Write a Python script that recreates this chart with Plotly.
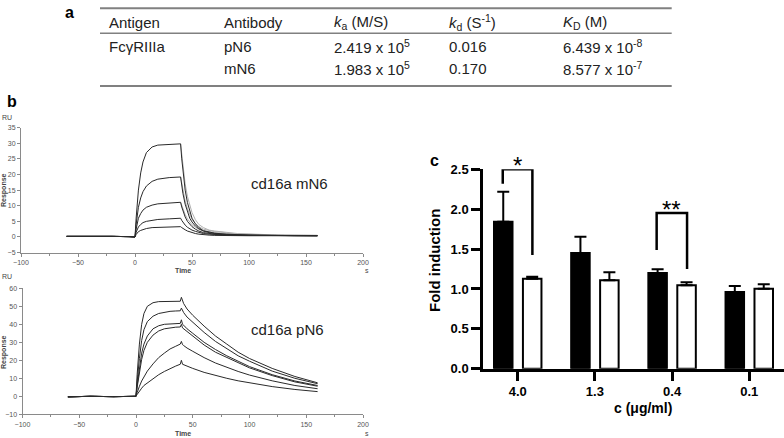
import plotly.graph_objects as go

W, H = 784, 438

# ---------------- table (panel a) ----------------
table_header = ["Antigen", "Antibody", "<i>k</i><sub>a</sub> (M/S)", "<i>k</i><sub>d</sub> (S<sup>-1</sup>)", "<i>K</i><sub>D</sub> (M)"]
table_row1 = ["FcγRIIIa", "pN6", "2.419 x 10<sup>5</sup>", "0.016", "6.439 x 10<sup>-8</sup>"]
table_row2 = ["", "mN6", "1.983 x 10<sup>5</sup>", "0.170", "8.577 x 10<sup>-7</sup>"]

# ---------------- SPR, cd16a mN6 (top) ----------------
t_m = [-60, -40, -20, -5, 0, 1, 2, 3, 5, 7, 10, 15, 20, 30, 40, 41, 42, 44, 46, 48, 50, 53, 56, 60, 65, 70, 80, 90, 100, 120, 140, 160]
mN6_1 = [0.2, 0.3, 0.2, 0.1, 0, 6, 11, 15, 20.5, 24, 27, 28.8, 29.4, 29.7, 29.8, 25, 21, 15, 11, 8, 6, 4.2, 3, 2, 1.5, 1.2, 0.9, 0.7, 0.6, 0.5, 0.4, 0.4]
mN6_2 = [0.2, 0.3, 0.2, 0.1, 0, 4, 7, 9.5, 12.5, 14.5, 16.3, 17.8, 18.5, 19, 19.2, 16.5, 14, 10.5, 8, 6, 4.8, 3.5, 2.6, 1.9, 1.4, 1.1, 0.8, 0.6, 0.5, 0.5, 0.4, 0.4]
mN6_3 = [0.2, 0.3, 0.2, 0.1, 0, 2.5, 4.5, 6, 7.5, 8.6, 9.5, 10.2, 10.6, 10.9, 11.1, 9.6, 8.3, 6.4, 5, 4, 3.3, 2.5, 1.9, 1.4, 1.1, 0.9, 0.7, 0.6, 0.5, 0.5, 0.4, 0.4]
mN6_4 = [0.2, 0.3, 0.2, 0.1, 0, 1.5, 2.5, 3.2, 4, 4.6, 5, 5.4, 5.6, 5.8, 6.0, 5.3, 4.7, 3.8, 3.1, 2.6, 2.2, 1.8, 1.4, 1.1, 0.9, 0.8, 0.6, 0.5, 0.5, 0.4, 0.4, 0.4]
mN6_5 = [0.2, 0.3, 0.2, 0.1, 0, 0.8, 1.3, 1.7, 2.1, 2.4, 2.7, 3.0, 3.1, 3.2, 3.3, 3.0, 2.7, 2.3, 1.9, 1.6, 1.4, 1.1, 0.9, 0.7, 0.6, 0.5, 0.4, 0.4, 0.4, 0.4, 0.4, 0.4]
t_m_fit = [40, 41, 42, 44, 46, 48, 50, 53, 56, 60, 65, 70, 75, 80, 90, 100, 120, 140, 160]
mN6_fit1 = [29.8, 26, 22.5, 17, 13, 10, 7.8, 5.5, 4, 3, 2.2, 1.9, 1.8, 1.5, 1.1, 0.9, 0.7, 0.6, 0.5]
mN6_fit2 = [19.2, 17, 15, 11.5, 9, 7, 5.6, 4.3, 3.3, 2.5, 2, 1.7, 1.6, 1.3, 1, 0.8, 0.6, 0.5, 0.5]
mN6_fit3 = [11.1, 10, 9, 7.2, 5.8, 4.7, 3.9, 3.1, 2.5, 2, 1.6, 1.4, 1.3, 1.1, 0.9, 0.7, 0.6, 0.5, 0.5]

# ---------------- SPR, cd16a pN6 (bottom) ----------------
t_p = [-60, -40, -20, -5, 0, 1, 2, 3, 5, 7, 10, 15, 20, 25, 30, 35, 39, 40, 41, 42, 45, 50, 60, 70, 80, 90, 100, 120, 140, 160]
pN6_1 = [-0.3, 0, -0.2, 0, 0, 12, 22, 29, 40, 46, 50, 52, 52.6, 52.7, 52.8, 52.8, 52.8, 55, 52.5, 51.5, 48.5, 45, 39, 33.5, 29, 24.5, 21, 15.5, 11, 7.5]
pN6_2 = [-0.3, 0, -0.2, 0, 0, 8, 15, 21, 31, 37, 41.5, 44.5, 46, 46.8, 47.2, 47.4, 47.5, 49, 47.3, 46.5, 44, 41, 35.5, 30.5, 26.5, 22.5, 19.5, 14, 10, 7]
pN6_3 = [-0.3, 0, -0.2, 0, 0, 6, 11, 16, 24, 29, 33.5, 37.5, 39.2, 40, 40.3, 40.4, 40.5, 42.5, 40, 39.5, 37.5, 35, 30, 26, 22.5, 19.5, 16.5, 12, 8.5, 6]
pN6_4 = [-0.3, 0, -0.2, 0, 0, 5, 9.5, 13.5, 20.5, 25.5, 30, 34, 36.3, 37.5, 38.1, 38.4, 38.5, 40, 38, 37.5, 35.5, 33, 28.5, 24.5, 21.5, 18.5, 15.8, 11.5, 8, 5.6]
pN6_5 = [-0.3, 0, -0.2, 0, 0, 2, 4, 5.5, 8.5, 11, 14, 18, 21.5, 24, 26.3, 27.8, 29, 30.5, 28.7, 28.2, 26.8, 25, 21.5, 18.5, 16, 13.8, 11.8, 8.6, 6, 4.2]
pN6_6 = [-0.3, 0, -0.2, 0, 0, 1, 2, 3, 4.5, 6, 7.5, 10, 12, 13.8, 15.4, 16.8, 17.8, 20, 17.8, 17.5, 16.6, 15.5, 13.3, 11.5, 10, 8.6, 7.4, 5.4, 3.8, 2.6]

# ---------------- bar chart (panel c) ----------------
conc_labels = ["4.0", "1.3", "0.4", "0.1"]
black_vals = [1.843, 1.451, 1.200, 0.962]
black_err = [0.376, 0.204, 0.046, 0.075]
white_vals = [1.128, 1.108, 1.046, 1.003]
white_err = [0.025, 0.101, 0.037, 0.055]

FONT = "Liberation Sans, Arial, sans-serif"

def px(x):
    return x / W

def py(y):
    return 1 - y / H

fig = go.Figure()

curve_col = "#2a2a2a"
fit_col = "#b0b0b0"
for yv in [mN6_fit1, mN6_fit2, mN6_fit3]:
    fig.add_trace(go.Scatter(x=t_m_fit, y=yv, mode="lines", line=dict(color=fit_col, width=1),
                             xaxis="x", yaxis="y", showlegend=False, hoverinfo="skip"))
for yv in [mN6_1, mN6_2, mN6_3, mN6_4, mN6_5]:
    fig.add_trace(go.Scatter(x=t_m, y=yv, mode="lines", line=dict(color=curve_col, width=1),
                             xaxis="x", yaxis="y", showlegend=False))
for yv in [pN6_1, pN6_2, pN6_3, pN6_4, pN6_5, pN6_6]:
    fig.add_trace(go.Scatter(x=t_p, y=yv, mode="lines", line=dict(color=curve_col, width=1),
                             xaxis="x2", yaxis="y2", showlegend=False))

fig.add_trace(go.Bar(x=conc_labels, y=black_vals, marker=dict(color="black", line=dict(color="black", width=2)),
                     error_y=dict(type="data", array=black_err, arrayminus=[0] * 4, symmetric=False,
                                  color="black", thickness=2, width=6),
                     xaxis="x3", yaxis="y3", showlegend=False))
fig.add_trace(go.Bar(x=conc_labels, y=white_vals, marker=dict(color="white", line=dict(color="black", width=2)),
                     error_y=dict(type="data", array=white_err, arrayminus=[0] * 4, symmetric=False,
                                  color="black", thickness=2, width=6),
                     xaxis="x3", yaxis="y3", showlegend=False))

spr_tick = dict(size=7, color="#555", family=FONT)
spr_axis = dict(showline=True, linecolor="#8a8a8a", linewidth=1, ticks="outside", ticklen=3,
                tickcolor="#8a8a8a", tickfont=spr_tick, showgrid=False, zeroline=False, automargin=False)

fig.update_layout(
    width=W, height=H, margin=dict(l=0, r=0, t=0, b=0, pad=0, autoexpand=False),
    paper_bgcolor="white", plot_bgcolor="white",
    barmode="group", bargap=0.25, bargroupgap=0.36,
    font=dict(family=FONT),
    xaxis=dict(domain=[px(21), px(363)], range=[-100, 200], dtick=50, anchor="y",
               minor=dict(dtick=25, ticks="outside", ticklen=2, tickcolor="#8a8a8a"), **spr_axis),
    yaxis=dict(domain=[py(252.6), py(127.6)], range=[-5, 35], dtick=5, anchor="x", **spr_axis),
    xaxis2=dict(domain=[px(22.5), px(363)], range=[-100, 200], dtick=50, anchor="y2",
                minor=dict(dtick=25, ticks="outside", ticklen=2, tickcolor="#8a8a8a"), **spr_axis),
    yaxis2=dict(domain=[py(414.3), py(288.3)], range=[-10, 60], dtick=10, anchor="x2", **spr_axis),
    xaxis3=dict(domain=[px(483.3), 1], range=[-0.446, 3.45], type="category", anchor="y3",
                showline=True, linecolor="black", linewidth=3, ticks="outside", ticklen=9, tickwidth=3,
                tickcolor="black", tickfont=dict(size=13, color="black", family=FONT, weight="bold"),
                showgrid=False, zeroline=False, automargin=False),
    yaxis3=dict(domain=[py(368.7), py(169.3)], range=[0, 2.5], dtick=0.5, tickformat=".1f", anchor="x3",
                showline=True, linecolor="black", linewidth=3, ticks="outside", ticklen=9, tickwidth=3,
                tickcolor="black", tickfont=dict(size=13, color="black", family=FONT, weight="bold"),
                showgrid=False, zeroline=False, automargin=False),
)

ann = []
# table text
col_x = [106.7, 221.7, 331.7, 446.7, 561]
row_y = [22.7, 46.7, 69]
for r, row in enumerate([table_header, table_row1, table_row2]):
    for c, txt in enumerate(row):
        if txt:
            ann.append(dict(x=px(col_x[c]), y=py(row_y[r]), xref="paper", yref="paper", text=txt,
                            showarrow=False, xanchor="left", yanchor="middle",
                            font=dict(size=15, color="#222", family=FONT)))
shapes = []
for yy, wd in [(8.3, 2), (33.3, 1.5), (86, 2)]:
    shapes.append(dict(type="line", xref="paper", yref="paper", x0=px(100), x1=px(671.7), y0=py(yy), y1=py(yy),
                       line=dict(color="#808080", width=wd)))

# panel letters
for letter, x, y in [("a", 69.3, 12.3), ("b", 12, 101.7), ("c", 434, 160)]:
    ann.append(dict(x=px(x), y=py(y), xref="paper", yref="paper", text=letter, showarrow=False,
                    xanchor="center", yanchor="middle", font=dict(size=16, color="black", family=FONT, weight="bold")))

# SPR labels
small = dict(size=7, color="#444", family=FONT)
for y_ru, y_time, y_resp in [(117.7, 270.7, 190), (276.7, 433, 352)]:
    ann.append(dict(x=px(7.3), y=py(y_ru), xref="paper", yref="paper", text="RU", showarrow=False,
                    xanchor="center", yanchor="middle", font=small))
    ann.append(dict(x=px(183), y=py(y_time), xref="paper", yref="paper", text="<b>Time</b>", showarrow=False,
                    xanchor="center", yanchor="middle", font=small))
    ann.append(dict(x=px(367.3), y=py(y_time), xref="paper", yref="paper", text="s", showarrow=False,
                    xanchor="center", yanchor="middle", font=small))
    ann.append(dict(x=px(4), y=py(y_resp), xref="paper", yref="paper", text="<b>Response</b>", showarrow=False,
                    xanchor="center", yanchor="middle", textangle=-90, font=small))
ann.append(dict(x=px(289.3), y=py(183.3), xref="paper", yref="paper", text="cd16a mN6", showarrow=False,
                xanchor="center", yanchor="middle", font=dict(size=15, color="#222", family=FONT)))
ann.append(dict(x=px(287.3), y=py(329.3), xref="paper", yref="paper", text="cd16a pN6", showarrow=False,
                xanchor="center", yanchor="middle", font=dict(size=15, color="#222", family=FONT)))

# bar chart titles
ann.append(dict(x=px(434), y=py(261), xref="paper", yref="paper", text="Fold induction", showarrow=False,
                xanchor="center", yanchor="middle", textangle=-90,
                font=dict(size=15, color="black", family=FONT, weight="bold")))
ann.append(dict(x=px(643), y=py(408.3), xref="paper", yref="paper", text="c (μg/ml)", showarrow=False,
                xanchor="center", yanchor="middle", font=dict(size=14, color="black", family=FONT, weight="bold")))

# significance brackets: (left x, right x, left bottom, right bottom, top, label)
brackets = [(-0.194, 0.19, 2.32, 1.425, 2.5, "*"), (1.8, 2.194, 1.488, 1.25, 1.952, "**")]
for xl, xr, yl, yr, yt, lab in brackets:
    shapes.append(dict(type="path", xref="x3", yref="y3",
                       path=f"M {xl},{yl} L {xl},{yt} L {xr},{yt} L {xr},{yr}",
                       line=dict(color="black", width=2.5)))
    ann.append(dict(x=(xl + xr) / 2, y=yt, xref="x3", yref="y3", text=lab, showarrow=False,
                    xanchor="center", yanchor="bottom", yshift=-12,
                    font=dict(size=24, color="black", family=FONT)))

fig.update_layout(annotations=ann, shapes=shapes)
fig.write_html("out.html", config={"displayModeBar": False},
               post_script="document.body.style.margin='0';document.body.style.padding='0';document.body.style.overflow='hidden';")
